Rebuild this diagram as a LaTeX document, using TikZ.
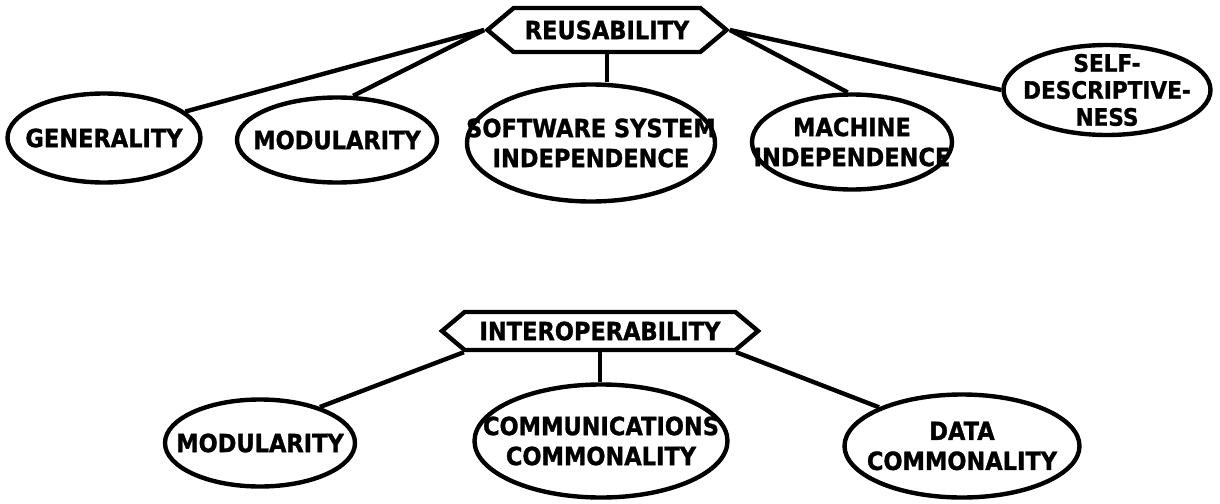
\documentclass[tikz,border=0pt]{standalone}
\usepackage{fontspec}
\setmainfont{DejaVu Sans}[BoldFeatures={FakeStretch=0.9, FakeBold=1.2}]
\usepackage{tikz}
\usetikzlibrary{shapes.geometric, shapes.symbols}

\begin{document}
\begin{tikzpicture}[x=0.5pt, y=-0.5pt, line width=2.2pt,
	bubble/.style={draw, ellipse, inner xsep=-20pt, inner ysep=-10pt, align=center,
		font=\fontsize{12.5}{15}\selectfont\bfseries},
	sign/.style={draw, signal, signal to=east and west, signal pointer angle=80,
		inner xsep=2pt, inner ysep=0pt, font=\fontsize{12.5}{15}\selectfont\bfseries}]
	\useasboundingbox (0,0) rectangle (1220,503);

	% top: reusability
	\node [sign, minimum width=119.5pt, minimum height=22pt] (reuse) at (607,30) {REUSABILITY};
	\node [bubble, minimum width=96.5pt, minimum height=44.5pt] (gen) at (104,138) {GENERALITY};
	\node [bubble, minimum width=100pt, minimum height=42.5pt] (modA) at (337,140) {MODULARITY};
	\node [bubble, minimum width=124pt, minimum height=58.5pt] (soft) at (591,143) {SOFTWARE SYSTEM\\INDEPENDENCE};
	\node [bubble, minimum width=100pt, minimum height=47.5pt] (mach) at (852,142) {MACHINE\\INDEPENDENCE};
	\node [bubble, minimum width=103.5pt, minimum height=45pt,
		font=\fontsize{12}{13.5}\selectfont\bfseries] (self) at (1107,90) {SELF-\\DESCRIPTIVE-\\NESS};

	\draw (reuse.west) to (gen.18);
	\draw (reuse.west) to (modA.70);
	\draw (reuse.south) to (reuse.south |- soft.north);
	\draw (reuse.east) to (mach.95);
	\draw (reuse.east) to (self.west);

	% bottom: interoperability
	\node [sign, minimum width=158pt, minimum height=19pt] (inter) at (600,331) {INTEROPERABILITY};
	\node [bubble, minimum width=95pt, minimum height=43.5pt] (modB) at (260,443) {MODULARITY};
	\node [bubble, minimum width=126.5pt, minimum height=56.5pt] (comm) at (601,441) {COMMUNICATIONS\\COMMONALITY};
	\node [bubble, minimum width=117.5pt, minimum height=51.5pt] (data) at (962,446) {DATA\\COMMONALITY};

	\draw (inter.south west) to (modB.31);
	\draw (inter.south) to (inter.south |- comm.north);
	\draw (inter.south east) to (data.155);
\end{tikzpicture}
\end{document}
